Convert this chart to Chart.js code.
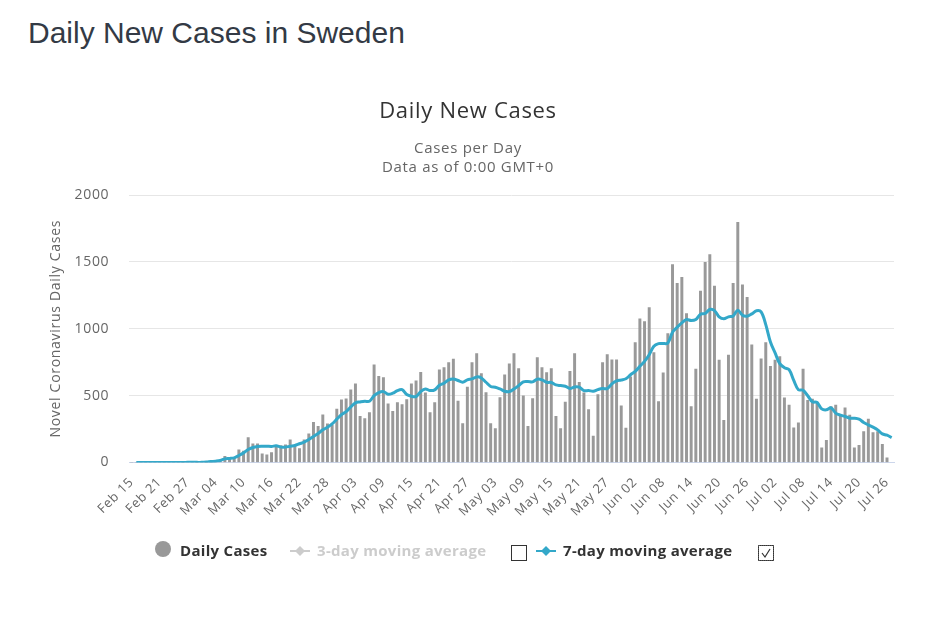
<!DOCTYPE html>
<html><head><meta charset="utf-8">
<script src="https://cdn.jsdelivr.net/npm/chart.js@4"></script>
<style>
html,body{margin:0;padding:0;background:#fff;width:950px;height:619px;overflow:hidden}
h1{position:absolute;left:28px;top:15px;margin:0;font:400 30px/36px "Liberation Sans",Arial,sans-serif;color:#333a45}
#wrap{position:absolute;left:0;top:0;width:950px;height:619px}
.lg{position:absolute;top:540px;height:20px;font:700 15px/20px "Open Sans",sans-serif;letter-spacing:.3px;color:#333;white-space:nowrap}
.off{color:#ccc}
.dot{position:absolute;left:155px;top:541px;width:16px;height:16px;border-radius:50%;background:#999}
.mk{position:absolute;top:546px}
.cb{position:absolute;box-sizing:border-box;width:16px;height:16px;border:1px solid #333;background:#fff}
</style></head><body>
<h1>Daily New Cases in Sweden</h1>
<div id="wrap"><canvas id="c" width="950" height="619"></canvas></div>
<div class="dot"></div><span class="lg" id="l0" style="left:180px"></span>
<svg class="mk" style="left:290px" width="20" height="10"><path d="M0 5H20" stroke="#ccc" stroke-width="2"/><path d="M10 0L15 5L10 10L5 5Z" fill="#ccc"/></svg>
<span class="lg off" id="l1" style="left:317px"></span>
<div class="cb" style="left:511px;top:545px"></div>
<svg class="mk" style="left:536px" width="20" height="10"><path d="M0 5H20" stroke="#33a8c9" stroke-width="2"/><path d="M10 0L15 5L10 10L5 5Z" fill="#33a8c9"/></svg>
<span class="lg" id="l2" style="left:563px"></span>
<div class="cb" style="left:758px;top:545px;outline:1px dotted #555;outline-offset:-1px"><svg width="14" height="14" style="display:block"><path d="M3 7L6 11L11 3" fill="none" stroke="#333" stroke-width="1.2"/></svg></div>
<script>
const categories = [
"Feb 15","Feb 16","Feb 17","Feb 18","Feb 19","Feb 20","Feb 21","Feb 22","Feb 23","Feb 24","Feb 25","Feb 26","Feb 27","Feb 28","Feb 29",
"Mar 01","Mar 02","Mar 03","Mar 04","Mar 05","Mar 06","Mar 07","Mar 08","Mar 09","Mar 10","Mar 11","Mar 12","Mar 13","Mar 14","Mar 15","Mar 16","Mar 17","Mar 18","Mar 19","Mar 20","Mar 21","Mar 22","Mar 23","Mar 24","Mar 25","Mar 26","Mar 27","Mar 28","Mar 29","Mar 30","Mar 31",
"Apr 01","Apr 02","Apr 03","Apr 04","Apr 05","Apr 06","Apr 07","Apr 08","Apr 09","Apr 10","Apr 11","Apr 12","Apr 13","Apr 14","Apr 15","Apr 16","Apr 17","Apr 18","Apr 19","Apr 20","Apr 21","Apr 22","Apr 23","Apr 24","Apr 25","Apr 26","Apr 27","Apr 28","Apr 29","Apr 30",
"May 01","May 02","May 03","May 04","May 05","May 06","May 07","May 08","May 09","May 10","May 11","May 12","May 13","May 14","May 15","May 16","May 17","May 18","May 19","May 20","May 21","May 22","May 23","May 24","May 25","May 26","May 27","May 28","May 29","May 30","May 31",
"Jun 01","Jun 02","Jun 03","Jun 04","Jun 05","Jun 06","Jun 07","Jun 08","Jun 09","Jun 10","Jun 11","Jun 12","Jun 13","Jun 14","Jun 15","Jun 16","Jun 17","Jun 18","Jun 19","Jun 20","Jun 21","Jun 22","Jun 23","Jun 24","Jun 25","Jun 26","Jun 27","Jun 28","Jun 29","Jun 30",
"Jul 01","Jul 02","Jul 03","Jul 04","Jul 05","Jul 06","Jul 07","Jul 08","Jul 09","Jul 10","Jul 11","Jul 12","Jul 13","Jul 14","Jul 15","Jul 16","Jul 17","Jul 18","Jul 19","Jul 20","Jul 21","Jul 22","Jul 23","Jul 24","Jul 25","Jul 26","Jul 27"];
const dailyCases = [
0,0,0,0,0,0,0,0,0,0,
0,1,5,2,1,0,1,3,7,12,
47,27,30,95,85,187,140,140,65,57,
75,127,127,132,170,125,105,170,214,300,
270,356,290,277,400,468,476,543,588,346,
328,373,730,645,635,438,383,448,433,470,
588,610,675,520,373,448,692,710,747,774,
460,291,563,747,814,665,523,291,254,485,
655,737,814,702,498,271,478,784,710,672,
702,346,254,451,682,814,600,520,396,197,
508,747,807,767,767,424,257,640,896,1074,
1054,1159,821,456,671,964,1479,1339,1384,1114,
419,699,1281,1496,1554,1319,766,316,804,1339,
1796,1329,1234,879,474,776,896,719,766,791,
484,429,259,296,699,464,474,451,109,166,
419,429,349,409,354,109,129,231,324,224,
231,136,34,null];
const threeDayAvg = [];
const sevenDayAvg = [
null,0,0,0,0,0,0,0,0,0,
0,0,1,1,1,1,3,7,10,15,
27,30,35,52,72,97,112,120,122,122,
120,125,115,115,122,127,140,152,172,195,
217,244,264,289,324,358,381,416,446,453,
458,458,500,523,530,510,518,538,545,508,
495,493,530,550,538,543,578,593,618,625,
613,600,618,625,640,632,600,568,563,550,
533,530,550,575,603,605,603,623,618,600,
598,580,575,570,553,565,563,538,538,533,
545,553,553,588,610,617,626,656,681,719,
756,806,869,889,889,894,974,1011,1044,1069,
1061,1069,1109,1114,1144,1136,1089,1074,1089,1096,
1139,1101,1094,1111,1134,1126,1031,901,819,739,
709,694,614,544,541,499,454,449,401,394,
409,369,354,344,331,331,324,299,281,264,
244,214,204,186];
const yTicks = [0,500,1000,1500,2000];
const FONT = '"Open Sans",sans-serif';
const spacing = {id:'spacing',beforeDraw(c){c.ctx.letterSpacing='0.7px';}};
const chart = new Chart(document.getElementById('c'),{
  data:{labels:categories,datasets:[
    {type:'line',label:'7-day moving average',data:sevenDayAvg,borderColor:'#33a8c9',borderWidth:3,pointRadius:0,tension:0.35,order:1,spanGaps:false},
    {type:'line',label:'3-day moving average',data:threeDayAvg,borderColor:'#ccc',borderWidth:2,pointRadius:0,hidden:true,order:2},
    {type:'bar',label:'Daily Cases',data:dailyCases,backgroundColor:'#999',barThickness:2.3,order:3}
  ]},
  plugins:[spacing],
  options:{
    responsive:false,animation:false,
    layout:{padding:{left:42,right:56,top:99,bottom:86.5}},
    plugins:{
      legend:{display:false},tooltip:{enabled:false},
      title:{display:true,text:'Daily New Cases',color:'#333',font:{family:FONT,size:22,weight:'400',lineHeight:1.2},padding:{top:0,bottom:13.5}},
      subtitle:{display:true,text:['Cases per Day','Data as of 0:00 GMT+0'],color:'#666',font:{family:FONT,size:15,weight:'400',lineHeight:1.27},padding:{top:0,bottom:18}}
    },
    scales:{
      x:{type:'category',offset:true,
        grid:{display:false},
        border:{color:'#ccd6eb',width:1},
        ticks:{autoSkip:false,minRotation:45,maxRotation:45,color:'#666',padding:4,font:{family:FONT,size:13},
          callback(v,i){return i%6===0?this.getLabelForValue(v):null;}},
        afterFit(s){s.height=70;}},
      y:{min:0,max:2000,
        afterBuildTicks(s){s.ticks=yTicks.map(v=>({value:v}));},
        grid:{color:'#e6e6e6',drawTicks:false},
        border:{display:false},
        ticks:{color:'#666',padding:20,font:{family:FONT,size:14},callback:v=>String(v)},
        title:{display:true,text:'Novel Coronavirus Daily Cases',color:'#666',font:{family:FONT,size:14},padding:{top:6,bottom:0}},
        afterFit(s){s.width=87.3;}}
    }
  }
});
const byLabel=l=>chart.data.datasets.find(d=>d.label===l).label;
document.getElementById('l0').textContent=byLabel('Daily Cases');
document.getElementById('l1').textContent=byLabel('3-day moving average');
document.getElementById('l2').textContent=byLabel('7-day moving average');
</script></body></html>
